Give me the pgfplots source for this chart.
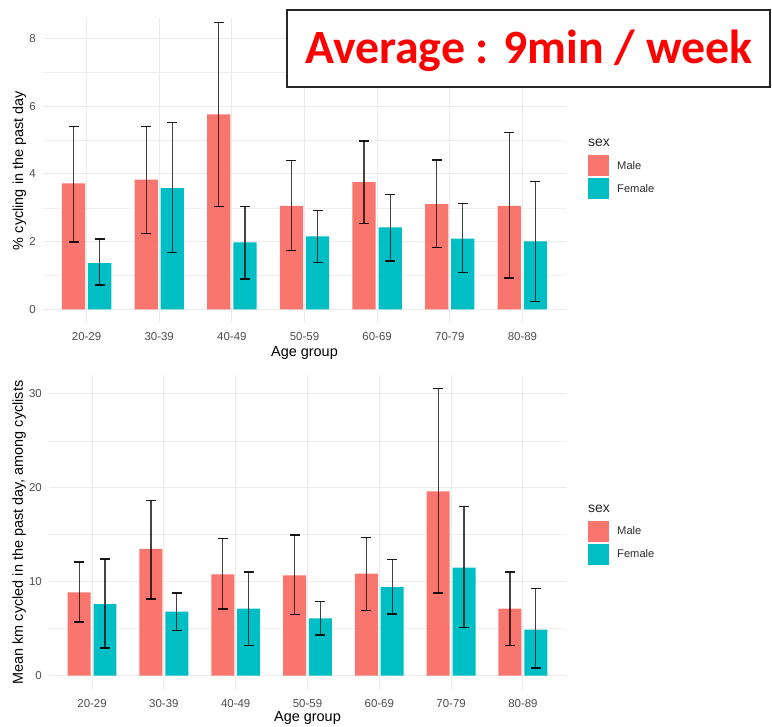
\documentclass[border=0pt]{standalone}
\usepackage{fontspec}
\setmainfont{Liberation Sans}
\newfontfamily\carlito{Carlito}
\usepackage{pgfplots}
\pgfplotsset{compat=1.18}
\definecolor{malec}{HTML}{F8766D}
\definecolor{femalec}{HTML}{00BFC4}
\definecolor{gridc}{HTML}{EBEBEB}
\definecolor{tickc}{HTML}{4D4D4D}
\pgfplotsset{
  ggstyle/.style={
    scale only axis,
    axis line style={draw=none},
    tick style={draw=none},
    xmin=0.4, xmax=7.6,
    xtick={1,...,7},
    xticklabels={20-29,30-39,40-49,50-59,60-69,70-79,80-89},
    xmajorgrids, ymajorgrids, yminorgrids,
    major grid style={gridc, line width=1.1bp},
    minor grid style={gridc!80, line width=0.55bp},
    tick label style={font=\fontsize{11.5}{13}\selectfont, text=tickc},
    xticklabel style={anchor=center, inner sep=0pt, yshift=-13.5bp},
    yticklabel style={anchor=east, inner sep=0pt, xshift=-7bp},
    label style={font=\fontsize{14.5}{17}\selectfont, text=black},
    /pgf/number format/assume math mode=true,
    legend cell align=left,
    legend style={draw=none, fill=none, inner sep=0pt, row sep=2bp, column sep=8bp,
      font=\fontsize{11.2}{13}\selectfont, text=tickc!60!black, nodes={inner sep=0pt, anchor=west}},
  },
  gbar/.style={ybar, bar width=0.32, bar shift=0, fill=#1, draw=none,
    legend image code/.code={\fill[#1] (0bp,-10.5bp) rectangle (21bp,10.5bp);},
    error bars/.cd, y dir=both, y explicit,
    error bar style={draw=black, draw opacity=0.72, line width=1.2bp},
    error mark options={rotate=90, draw=black, draw opacity=0.9, line width=1.2bp, mark size=5bp}},
}
\begin{document}
\begin{tikzpicture}
\useasboundingbox (0bp,0bp) rectangle (772bp,-727bp);
% ---------- top panel ----------
\begin{axis}[ggstyle,
  at={(43bp,-323bp)}, anchor=south west,
  width=523bp, height=305bp,
  ymin=-0.4, ymax=8.6,
  ytick={0,2,4,6,8}, minor ytick={1,3,5,7},
  ylabel={\% cycling in the past day},
  ylabel style={at={(axis description cs:-0.045,0.5)}, anchor=center},
  xlabel={Age group},
  xlabel style={at={(axis description cs:0.5,-0.098)}, anchor=center},
  legend style={at={(1.0421,0.5508)}, anchor=north west},
]
\addplot[gbar=malec] coordinates {
  (0.82,3.72) += (0,1.68) -= (0,1.73)
  (1.82,3.83) += (0,1.57) -= (0,1.59)
  (2.82,5.76) += (0,2.70) -= (0,2.72)
  (3.82,3.06) += (0,1.33) -= (0,1.32)
  (4.82,3.76) += (0,1.21) -= (0,1.22)
  (5.82,3.11) += (0,1.30) -= (0,1.29)
  (6.82,3.06) += (0,2.16) -= (0,2.13)
};
\addlegendentry{Male}
\addplot[gbar=femalec] coordinates {
  (1.18,1.37) += (0,0.71) -= (0,0.65)
  (2.18,3.58) += (0,1.94) -= (0,1.89)
  (3.18,1.98) += (0,1.06) -= (0,1.08)
  (4.18,2.16) += (0,0.76) -= (0,0.77)
  (5.18,2.42) += (0,0.98) -= (0,0.99)
  (6.18,2.09) += (0,1.04) -= (0,1.00)
  (7.18,2.01) += (0,1.77) -= (0,1.77)
};
\addlegendentry{Female}
\end{axis}
\node[anchor=base west, inner sep=0pt, font=\fontsize{14}{16}\selectfont, text=black!85] at (588bp,-146.7bp) {sex};
% ---------- bottom panel ----------
\begin{axis}[ggstyle,
  at={(49bp,-690bp)}, anchor=south west,
  width=517bp, height=315bp,
  ymin=-1.52, ymax=32.0,
  ytick={0,10,20,30}, minor ytick={5,15,25},
  ylabel={Mean km cycled in the past day, among cyclists},
  ylabel style={at={(axis description cs:-0.058,0.5)}, anchor=center},
  xlabel={Age group},
  xlabel style={at={(axis description cs:0.5,-0.089)}, anchor=center},
  legend style={at={(1.0426,0.5375)}, anchor=north west},
]
\addplot[gbar=malec] coordinates {
  (0.82,8.87) += (0,3.23) -= (0,3.15)
  (1.82,13.49) += (0,5.15) -= (0,5.33)
  (2.82,10.79) += (0,3.83) -= (0,3.69)
  (3.82,10.68) += (0,4.30) -= (0,4.18)
  (4.82,10.86) += (0,3.87) -= (0,3.90)
  (5.82,19.63) += (0,10.90) -= (0,10.83)
  (6.82,7.14) += (0,3.90) -= (0,3.91)
};
\addlegendentry{Male}
\addplot[gbar=femalec] coordinates {
  (1.18,7.63) += (0,4.79) -= (0,4.68)
  (2.18,6.82) += (0,1.98) -= (0,2.03)
  (3.18,7.14) += (0,3.90) -= (0,3.91)
  (4.18,6.10) += (0,1.78) -= (0,1.77)
  (5.18,9.44) += (0,2.91) -= (0,2.87)
  (6.18,11.50) += (0,6.50) -= (0,6.39)
  (7.18,4.90) += (0,4.37) -= (0,4.08)
};
\addlegendentry{Female}
\end{axis}
\node[anchor=base west, inner sep=0pt, font=\fontsize{14}{16}\selectfont, text=black!85] at (588bp,-512.7bp) {sex};
% ---------- annotation box ----------
\draw[line width=1.3bp, black!85, fill=white] (287bp,-10bp) rectangle (770bp,-87bp);
\node[anchor=base, inner sep=0pt, text=red, font=\carlito\bfseries\fontsize{48}{56}\selectfont] at (529bp,-63bp) {Average : 9min / week};
\end{tikzpicture}
\end{document}
